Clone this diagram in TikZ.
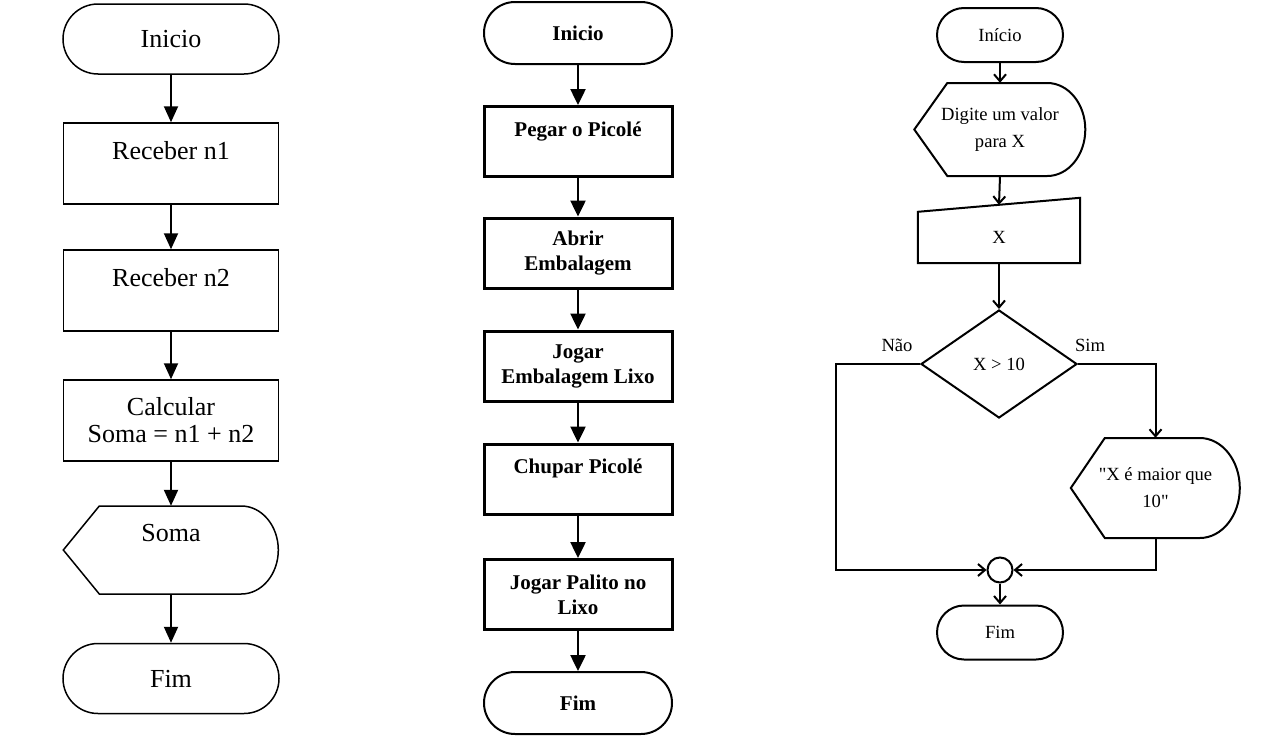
\documentclass[tikz,border=0pt]{standalone}
\usepackage{fontspec}
\setmainfont{Liberation Serif}[Ligatures=TeXOff]
\usetikzlibrary{arrows.meta,shapes.geometric}

\begin{document}
\begin{tikzpicture}[x=1pt,y=1pt,
  termA/.style={draw, line width=1.5pt, rounded corners=35pt, minimum width=216pt, minimum height=70pt, font=\fontsize{26}{27}\selectfont},
  procA/.style={draw, line width=1.5pt, minimum width=215pt, minimum height=81pt, align=center, font=\fontsize{26}{27}\selectfont},
  flowA/.style={-{Triangle[width=14pt,length=16pt]}, line width=2pt},
  termB/.style={draw, line width=2pt, rounded corners=31pt, minimum width=188pt, minimum height=62pt, font=\bfseries\fontsize{21}{25}\selectfont},
  procB/.style={draw, line width=3pt, minimum width=188pt, minimum height=70pt, align=center, font=\bfseries\fontsize{21}{25}\selectfont},
  flowB/.style={-{Triangle[width=15pt,length=16pt]}, line width=2.5pt},
  termC/.style={draw, line width=2pt, rounded corners=27pt, minimum width=126pt, minimum height=54pt, font=\fontsize{18.6}{27}\selectfont},
  textC/.style={align=center, font=\fontsize{18.6}{27}\selectfont},
  lineC/.style={line width=2pt},
  flowC/.style={-{Straight Barb[length=7pt,width=12pt]}, line width=2pt}
]
  \useasboundingbox (0,0) rectangle (1280,-744);

  % Soma de dois numeros
  \node[termA] (iniA) at (171,-39) {Inicio};
  \node[procA] (rec1) at (171,-163.5) {Receber n1\\\mbox{}};
  \node[procA] (rec2) at (171,-290.5) {Receber n2\\\mbox{}};
  \node[procA] (calc) at (171,-420.5) {Calcular\\Soma = n1 + n2};
  \node[minimum width=215pt, minimum height=88pt, align=center, font=\fontsize{26}{27}\selectfont] (soma) at (171,-550) {Soma\\[8pt]\mbox{}};
  \draw[line width=1.5pt] (soma.west) -- ++(36,44) -- ++(142,0)
    arc[start angle=90, end angle=-90, x radius=37, y radius=44] -- ++(-142,0) -- cycle;
  \node[termA] (fimA) at (171,-678.5) {Fim};

  \draw[flowA] (iniA) -- (rec1);
  \draw[flowA] (rec1) -- (rec2);
  \draw[flowA] (rec2) -- (calc);
  \draw[flowA] (calc.south) -- (soma.north);
  \draw[flowA] (soma.south) -- (fimA.north);

  % Picole
  \node[termB] (iniB) at (578,-33) {Inicio};
  \node[procB] (pegar) at (578,-141.5) {Pegar o Picolé\\\mbox{}};
  \node[procB] (abrir) at (578,-253) {Abrir\\Embalagem};
  \node[procB] (lixo) at (578,-366) {Jogar\\Embalagem Lixo};
  \node[procB] (chupar) at (578,-479) {Chupar Picolé\\\mbox{}};
  \node[procB] (palito) at (578,-594.5) {Jogar Palito no\\Lixo};
  \node[termB] (fimB) at (578,-703) {Fim};

  \draw[flowB] (iniB) -- (pegar);
  \draw[flowB] (pegar) -- (abrir);
  \draw[flowB] (abrir) -- (lixo);
  \draw[flowB] (lixo) -- (chupar);
  \draw[flowB] (chupar) -- (palito);
  \draw[flowB] (palito) -- (fimB);

  % Decisao X > 10
  \node[termC] (iniC) at (1000,-35) {Início};
  \node[textC, minimum width=171pt, minimum height=93pt] (digite) at (1000,-129.5) {Digite um valor\\para X};
  \draw[lineC] (digite.west) -- ++(33,46.5) -- ++(100,0)
    arc[start angle=90, end angle=-90, x radius=38, y radius=46.5] -- ++(-100,0) -- cycle;
  \node[textC, minimum width=162pt, minimum height=51pt] (inX) at (999,-237.5) {X};
  \draw[lineC] (inX.south west) -- (inX.south east) -- ([yshift=14]inX.north east)
    -- (inX.north west) -- cycle;
  \node[textC, draw, lineC, diamond, inner sep=0pt, minimum width=156pt, minimum height=108pt] (test) at (999,-364) {X > 10};
  \node[textC] (nao) at (897,-345) {Não};
  \node[textC] (sim) at (1090,-345) {Sim};
  \node[textC, minimum width=169pt, minimum height=100pt] (msg) at (1155.5,-488) {"X é maior que\\10"};
  \draw[lineC] (msg.west) -- ++(34,50) -- ++(95,0)
    arc[start angle=90, end angle=-90, x radius=40, y radius=50] -- ++(-95,0) -- cycle;
  \node[draw, lineC, circle, inner sep=0pt, minimum size=25pt] (merge) at (1000,-570) {};
  \node[termC] (fimC) at (1000,-632.5) {Fim};
  \coordinate (cantoL) at (836,-570);

  \draw[flowC] (iniC) -- (digite);
  \draw[flowC] (digite.south) -- ([yshift=7]inX.north);
  \draw[flowC] (inX.south) -- (test.north);
  \draw[flowC] (test.west) -| (cantoL) -- (merge.west);
  \draw[flowC] (test.east) -| (msg.north);
  \draw[flowC] (msg.south) |- (merge.east);
  \draw[flowC] (merge.south) -- (fimC.north);
\end{tikzpicture}
\end{document}
